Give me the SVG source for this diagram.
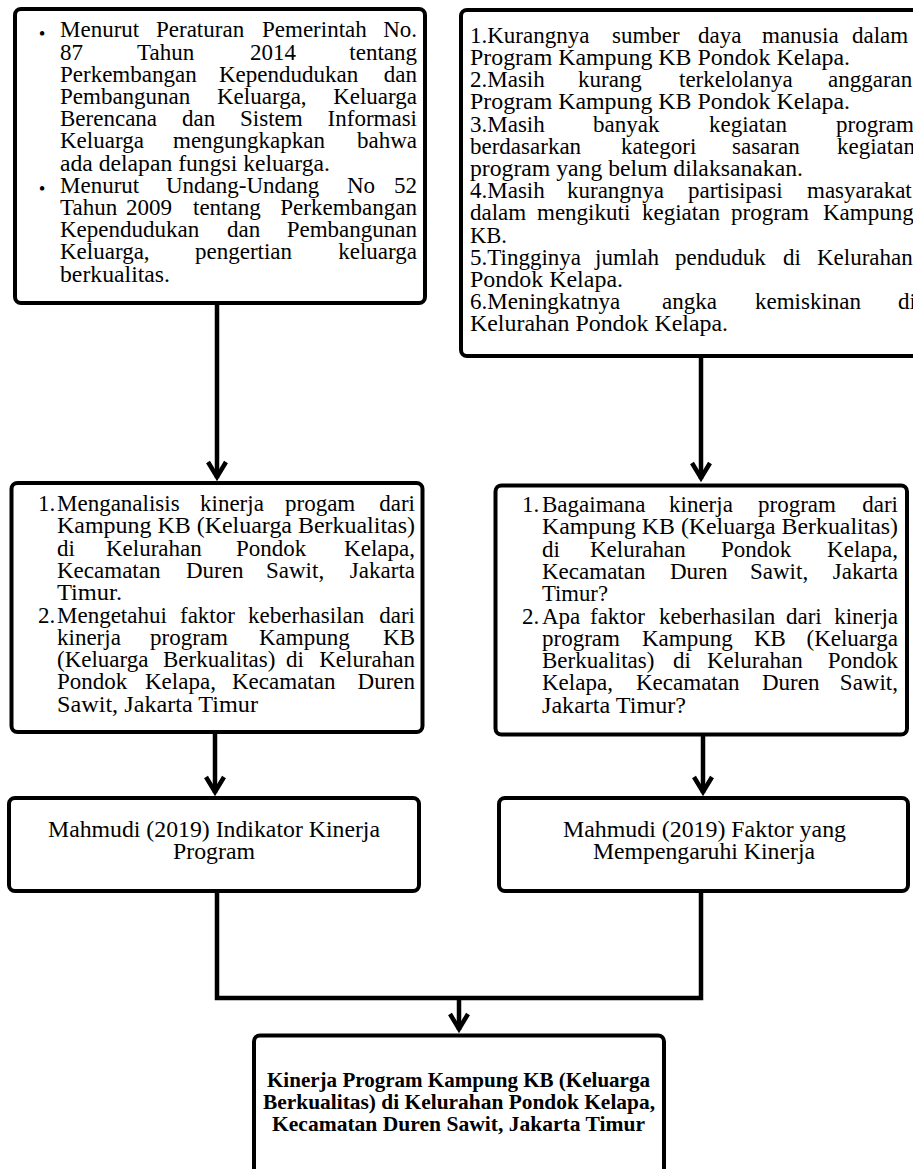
<svg xmlns="http://www.w3.org/2000/svg" width="913" height="1169" viewBox="0 0 913 1169">
<style>
.t{font-family:"Liberation Serif","Times New Roman",serif;font-size:23px;fill:#000}
.e{text-anchor:end}
.bul{font-family:"Liberation Serif","Times New Roman",serif;font-size:19px;fill:#000;text-anchor:middle}
.b{font-family:"Liberation Serif","Times New Roman",serif;font-size:21px;font-weight:bold;fill:#000}
.box{fill:#fff;stroke:#000;stroke-width:4}
.conn{fill:none;stroke:#000;stroke-width:4.5}
</style>
<defs>
<marker id="arr" markerUnits="userSpaceOnUse" viewBox="-22 -14 28 28" markerWidth="28" markerHeight="28" refX="0" refY="0" orient="auto" overflow="visible">
<path d="M-16,-9 L-1,0 L-16,9" fill="none" stroke="#000" stroke-width="4.5"/>
</marker>
</defs>
<rect width="913" height="1169" fill="#fff"/>

<g id="connectors">
<line class="conn" x1="217" y1="305" x2="217" y2="478" marker-end="url(#arr)"/>
<line class="conn" x1="701" y1="357" x2="701" y2="479" marker-end="url(#arr)"/>
<line class="conn" x1="215" y1="734" x2="215" y2="793" marker-end="url(#arr)"/>
<line class="conn" x1="703" y1="736" x2="703" y2="793" marker-end="url(#arr)"/>
<polyline class="conn" points="217,893 217,998 701,998 701,893"/>
<line class="conn" x1="459" y1="998" x2="459" y2="1030" marker-end="url(#arr)"/>
</g>

<g id="node-landasan">
<rect class="box" x="15" y="9" width="410" height="294" rx="6"/>
<text class="bul" x="42" y="40">•</text>
<text class="bul" x="42" y="195.4">•</text>
<text class="t" y="37.3"><tspan x="60">Menurut</tspan><tspan x="156">Peraturan</tspan><tspan x="262">Pemerintah</tspan></text>
<text class="t e" x="417" y="37.3">No.</text>
<text class="t" y="59.5"><tspan x="60">87</tspan><tspan x="137">Tahun</tspan><tspan x="250">2014</tspan></text>
<text class="t e" x="417" y="59.5">tentang</text>
<text class="t" y="81.7"><tspan x="60">Perkembangan</tspan><tspan x="219">Kependudukan</tspan></text>
<text class="t e" x="417" y="81.7">dan</text>
<text class="t" y="103.9"><tspan x="60">Pembangunan</tspan><tspan x="217">Keluarga,</tspan></text>
<text class="t e" x="417" y="103.9">Keluarga</text>
<text class="t" y="126.1"><tspan x="60">Berencana</tspan><tspan x="182">dan</tspan><tspan x="240">Sistem</tspan></text>
<text class="t e" x="417" y="126.1">Informasi</text>
<text class="t" y="148.3"><tspan x="60">Keluarga</tspan><tspan x="173">mengungkapkan</tspan></text>
<text class="t e" x="417" y="148.3">bahwa</text>
<text class="t" x="60" y="170.5" textLength="270" lengthAdjust="spacingAndGlyphs">ada delapan fungsi keluarga.</text>
<text class="t" y="192.7"><tspan x="60">Menurut</tspan><tspan x="166">Undang-Undang</tspan><tspan x="347">No</tspan></text>
<text class="t e" x="417" y="192.7">52</text>
<text class="t" y="214.9"><tspan x="60">Tahun</tspan><tspan x="126">2009</tspan><tspan x="193">tentang</tspan></text>
<text class="t e" x="417" y="214.9">Perkembangan</text>
<text class="t" y="237.1"><tspan x="60">Kependudukan</tspan><tspan x="227">dan</tspan></text>
<text class="t e" x="417" y="237.1">Pembangunan</text>
<text class="t" y="259.3"><tspan x="60">Keluarga,</tspan><tspan x="195">pengertian</tspan></text>
<text class="t e" x="417" y="259.3">keluarga</text>
<text class="t" x="60" y="281.5" textLength="110" lengthAdjust="spacingAndGlyphs">berkualitas.</text>
</g>

<g id="node-masalah">
<rect class="box" x="461" y="10" width="470" height="346" rx="6"/>
<text class="t" y="42.7"><tspan x="470">1.Kurangnya</tspan><tspan x="612">sumber</tspan><tspan x="698">daya</tspan><tspan x="762">manusia</tspan><tspan x="852">dalam</tspan></text>
<text class="t" x="470" y="64.9" textLength="380" lengthAdjust="spacingAndGlyphs">Program Kampung KB Pondok Kelapa.</text>
<text class="t" y="87.1"><tspan x="470">2.Masih</tspan><tspan x="578">kurang</tspan><tspan x="679">terkelolanya</tspan><tspan x="828">anggaran</tspan></text>
<text class="t" x="470" y="109.3" textLength="380" lengthAdjust="spacingAndGlyphs">Program Kampung KB Pondok Kelapa.</text>
<text class="t" y="131.5"><tspan x="470">3.Masih</tspan><tspan x="593">banyak</tspan><tspan x="709">kegiatan</tspan><tspan x="836">program</tspan></text>
<text class="t" y="153.7"><tspan x="470">berdasarkan</tspan><tspan x="621">kategori</tspan><tspan x="732">sasaran</tspan><tspan x="837">kegiatan</tspan></text>
<text class="t" x="470" y="175.9" textLength="333" lengthAdjust="spacingAndGlyphs">program yang belum dilaksanakan.</text>
<text class="t" y="198.1"><tspan x="470">4.Masih</tspan><tspan x="567">kurangnya</tspan><tspan x="688">partisipasi</tspan><tspan x="807">masyarakat</tspan></text>
<text class="t" y="220.3"><tspan x="470">dalam</tspan><tspan x="537">mengikuti</tspan><tspan x="642">kegiatan</tspan><tspan x="731">program</tspan><tspan x="823">Kampung</tspan></text>
<text class="t" x="470" y="242.5" textLength="37" lengthAdjust="spacingAndGlyphs">KB.</text>
<text class="t" y="264.7"><tspan x="470">5.Tingginya</tspan><tspan x="595">jumlah</tspan><tspan x="675">penduduk</tspan><tspan x="783">di</tspan><tspan x="817">Kelurahan</tspan></text>
<text class="t" x="470" y="286.9" textLength="153" lengthAdjust="spacingAndGlyphs">Pondok Kelapa.</text>
<text class="t" y="309.1"><tspan x="470">6.Meningkatnya</tspan><tspan x="662">angka</tspan><tspan x="755">kemiskinan</tspan><tspan x="898">di</tspan></text>
<text class="t" x="470" y="331.3" textLength="258" lengthAdjust="spacingAndGlyphs">Kelurahan Pondok Kelapa.</text>
</g>

<g id="node-tujuan">
<rect class="box" x="11.5" y="483" width="411" height="249" rx="6"/>
<text class="t" y="511"><tspan x="38">1.</tspan><tspan x="57">Menganalisis</tspan><tspan x="200">kinerja</tspan><tspan x="285">progam</tspan></text>
<text class="t e" x="415" y="511">dari</text>
<text class="t" x="57" y="533.3" textLength="358" lengthAdjust="spacingAndGlyphs">Kampung KB (Keluarga Berkualitas)</text>
<text class="t" y="555.6"><tspan x="57">di</tspan><tspan x="106">Kelurahan</tspan><tspan x="236">Pondok</tspan></text>
<text class="t e" x="415" y="555.6">Kelapa,</text>
<text class="t" y="577.9"><tspan x="57">Kecamatan</tspan><tspan x="186">Duren</tspan><tspan x="266">Sawit,</tspan></text>
<text class="t e" x="415" y="577.9">Jakarta</text>
<text class="t" x="57" y="600.2" textLength="65" lengthAdjust="spacingAndGlyphs">Timur.</text>
<text class="t" y="622.5"><tspan x="38">2.</tspan><tspan x="57">Mengetahui</tspan><tspan x="180">faktor</tspan><tspan x="248">keberhasilan</tspan></text>
<text class="t e" x="415" y="622.5">dari</text>
<text class="t" y="644.8"><tspan x="57">kinerja</tspan><tspan x="150">program</tspan><tspan x="259">Kampung</tspan></text>
<text class="t e" x="415" y="644.8">KB</text>
<text class="t" y="667.1"><tspan x="57">(Keluarga</tspan><tspan x="163">Berkualitas)</tspan><tspan x="286">di</tspan></text>
<text class="t e" x="415" y="667.1">Kelurahan</text>
<text class="t" y="689.4"><tspan x="57">Pondok</tspan><tspan x="145">Kelapa,</tspan><tspan x="232">Kecamatan</tspan></text>
<text class="t e" x="415" y="689.4">Duren</text>
<text class="t" x="57" y="711.7" textLength="201" lengthAdjust="spacingAndGlyphs">Sawit, Jakarta Timur</text>
</g>

<g id="node-rumusan">
<rect class="box" x="495.5" y="485.5" width="411.5" height="249" rx="6"/>
<text class="t" y="512"><tspan x="522">1.</tspan><tspan x="542">Bagaimana</tspan><tspan x="669">kinerja</tspan><tspan x="758">program</tspan></text>
<text class="t e" x="898" y="512">dari</text>
<text class="t" x="542" y="534.3" textLength="356" lengthAdjust="spacingAndGlyphs">Kampung KB (Keluarga Berkualitas)</text>
<text class="t" y="556.6"><tspan x="542">di</tspan><tspan x="590">Kelurahan</tspan><tspan x="721">Pondok</tspan></text>
<text class="t e" x="898" y="556.6">Kelapa,</text>
<text class="t" y="578.9"><tspan x="542">Kecamatan</tspan><tspan x="670">Duren</tspan><tspan x="750">Sawit,</tspan></text>
<text class="t e" x="898" y="578.9">Jakarta</text>
<text class="t" x="542" y="601.2" textLength="66" lengthAdjust="spacingAndGlyphs">Timur?</text>
<text class="t" y="623.5"><tspan x="522">2.</tspan><tspan x="542">Apa</tspan><tspan x="590">faktor</tspan><tspan x="659">keberhasilan</tspan><tspan x="786">dari</tspan></text>
<text class="t e" x="898" y="623.5">kinerja</text>
<text class="t" y="645.8"><tspan x="542">program</tspan><tspan x="642">Kampung</tspan><tspan x="754">KB</tspan></text>
<text class="t e" x="898" y="645.8">(Keluarga</text>
<text class="t" y="668.1"><tspan x="542">Berkualitas)</tspan><tspan x="673">di</tspan><tspan x="707">Kelurahan</tspan></text>
<text class="t e" x="898" y="668.1">Pondok</text>
<text class="t" y="690.4"><tspan x="542">Kelapa,</tspan><tspan x="636">Kecamatan</tspan><tspan x="762">Duren</tspan></text>
<text class="t e" x="898" y="690.4">Sawit,</text>
<text class="t" x="542" y="712.7" textLength="144" lengthAdjust="spacingAndGlyphs">Jakarta Timur?</text>
</g>

<g id="node-indikator">
<rect class="box" x="9" y="798" width="410" height="93" rx="6"/>
<text class="t" x="48" y="837" textLength="332" lengthAdjust="spacingAndGlyphs">Mahmudi (2019) Indikator Kinerja</text>
<text class="t" x="173" y="859" textLength="82" lengthAdjust="spacingAndGlyphs">Program</text>
</g>

<g id="node-faktor">
<rect class="box" x="499" y="798" width="409" height="93" rx="6"/>
<text class="t" x="563" y="837" textLength="283" lengthAdjust="spacingAndGlyphs">Mahmudi (2019) Faktor yang</text>
<text class="t" x="593" y="859" textLength="222" lengthAdjust="spacingAndGlyphs">Mempengaruhi Kinerja</text>
</g>

<g id="node-kinerja">
<rect class="box" x="254" y="1035.5" width="410" height="170" rx="6"/>
<text class="b" x="267" y="1087" textLength="383" lengthAdjust="spacingAndGlyphs">Kinerja Program Kampung KB (Keluarga</text>
<text class="b" x="263" y="1109" textLength="392" lengthAdjust="spacingAndGlyphs">Berkualitas) di Kelurahan Pondok Kelapa,</text>
<text class="b" x="272" y="1131" textLength="373" lengthAdjust="spacingAndGlyphs">Kecamatan Duren Sawit, Jakarta Timur</text>
</g>
</svg>
